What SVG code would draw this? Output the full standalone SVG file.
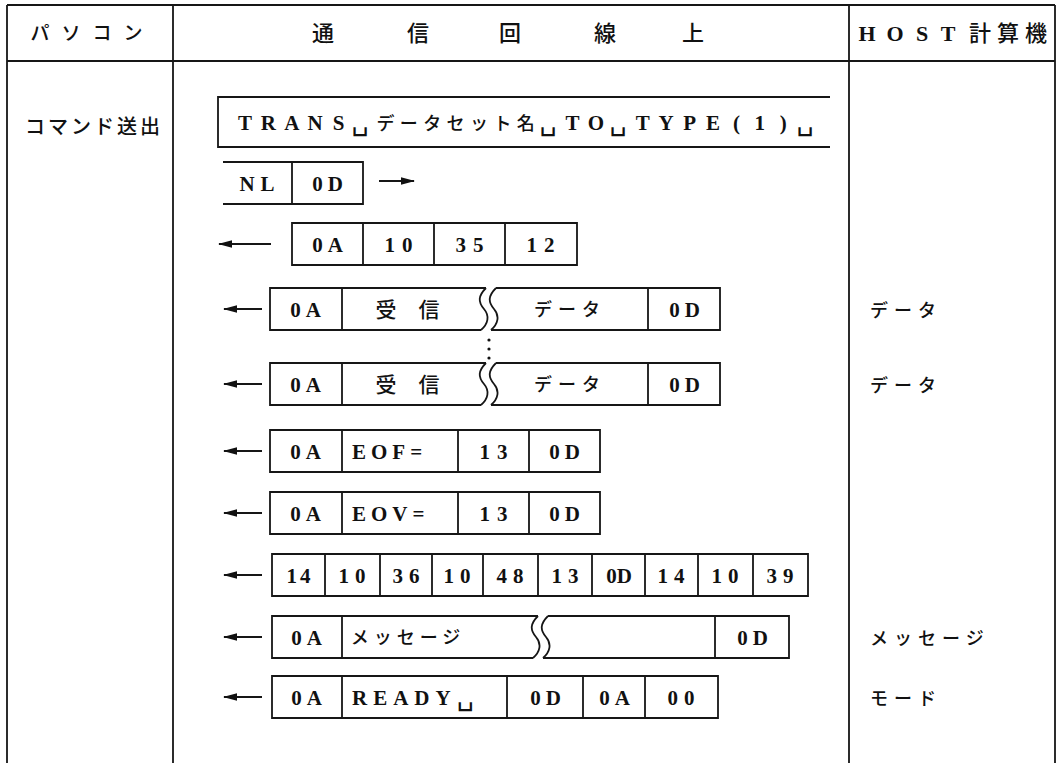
<svg xmlns="http://www.w3.org/2000/svg" width="1057" height="763" viewBox="0 0 1057 763">
<defs>
<marker id="ah" markerUnits="userSpaceOnUse" markerWidth="14" markerHeight="9" refX="13" refY="4.5" orient="auto"><path d="M0,0.8 L14,4.5 L0,8.2 z" fill="#111"/></marker>
</defs>
<style>
.ln{fill:none;stroke:#161616;stroke-width:1.8}
.t{font-family:"Liberation Serif","Noto Sans CJK JP","DejaVu Sans",serif;font-weight:bold;font-size:21px;fill:#111}
.j{font-family:"Noto Sans CJK JP",sans-serif;font-size:18px;font-weight:500;fill:#111}
.m{text-anchor:middle}
.ar{fill:none;stroke:#161616;stroke-width:1.8;marker-end:url(#ah)}
.u{font-family:"DejaVu Sans",sans-serif;font-weight:normal;font-size:27px}
</style>
<rect width="1057" height="763" fill="#fff"/>

<g id="table">
<path class="ln" d="M7,5 H1055 M7,61 H1055 M7,5 V763 M173,5 V763 M849,5 V763 M1055,5 V763"/>
<text class="j m" style="font-size:19px" x="40 71 102 133" y="40">パソコン</text>
<text class="j m" style="font-size:22px" x="323 418 510 605 693" y="41">通信回線上</text>
<text class="t m" style="font-size:22px" x="867 895 922 948" y="41">HOST</text>
<text class="j m" style="font-size:22px" x="980 1008 1036" y="41">計算機</text>
<text class="j" style="font-size:20px;letter-spacing:3px" x="25" y="134">コマンド送出</text>
</g>

<g id="cmd">
<path class="ln" d="M830,97 H218 V147 H830"/>
<text class="t m" y="130"><tspan x="245 268.4 291.8 315.2 338.6">TRANS</tspan><tspan class="u" x="360">␣</tspan><tspan class="j" x="385.4 408.8 432.2 455.6 479 502.4 525.8">データセット名</tspan><tspan class="u" x="548">␣</tspan><tspan x="572.6 596">TO</tspan><tspan class="u" x="618">␣</tspan><tspan x="642.8 666.2 689.6 713 736.4 759.8 783.2">TYPE(1)</tspan><tspan class="u" x="805">␣</tspan></text>
</g>

<g id="nl">
<path class="ln" d="M223,162 H363 V204 H223 M292,162 V204"/>
<text class="t m" style="letter-spacing:6px" x="260" y="191">NL</text>
<text class="t m" style="letter-spacing:5px" x="330" y="191">0D</text>
</g>

<g id="ack">
<path class="ln" d="M292,223 H577 V265 H292 Z M363,223 V265 M434,223 V265 M505,223 V265"/>
<text class="t m" style="letter-spacing:5px" x="330" y="252">0A</text>
<text class="t m" style="letter-spacing:7px" x="402" y="252">10</text>
<text class="t m" style="letter-spacing:7px" x="473" y="252">35</text>
<text class="t m" style="letter-spacing:7px" x="544" y="252">12</text>
</g>

<g id="recv1">
<path class="ln" d="M486,288 H270 V330 H481 M342,288 V330 M486,288 C478,296 478,302 484,309 C490,316 488,324 481,330"/>
<path class="ln" d="M496,288 H720 V330 H491 M648,288 V330 M496,288 C488,296 488,302 494,309 C500,316 498,324 491,330"/>
<text class="t m" style="letter-spacing:5px" x="308" y="317">0A</text>
<text class="j m" style="font-size:21px" x="386 429" y="317">受信</text>
<text class="j m" style="letter-spacing:6px" x="570" y="316">データ</text>
<text class="t m" style="letter-spacing:5px" x="687" y="317">0D</text>
</g>

<g id="dots" fill="#111">
<circle cx="489" cy="340" r="1.6"/><circle cx="489" cy="349" r="1.6"/><circle cx="489" cy="358" r="1.6"/>
</g>

<g id="recv2" transform="translate(0,75)">
<path class="ln" d="M486,288 H270 V330 H481 M342,288 V330 M486,288 C478,296 478,302 484,309 C490,316 488,324 481,330"/>
<path class="ln" d="M496,288 H720 V330 H491 M648,288 V330 M496,288 C488,296 488,302 494,309 C500,316 498,324 491,330"/>
<text class="t m" style="letter-spacing:5px" x="308" y="317">0A</text>
<text class="j m" style="font-size:21px" x="386 429" y="317">受信</text>
<text class="j m" style="letter-spacing:6px" x="570" y="316">データ</text>
<text class="t m" style="letter-spacing:5px" x="687" y="317">0D</text>
</g>

<g id="eof">
<path class="ln" d="M270,430 H600 V472 H270 Z M342,430 V472 M458,430 V472 M529,430 V472"/>
<text class="t m" style="letter-spacing:5px" x="308" y="459">0A</text>
<text class="t" style="letter-spacing:5px" x="352" y="459">EOF=</text>
<text class="t m" style="letter-spacing:7px" x="497" y="459">13</text>
<text class="t m" style="letter-spacing:5px" x="567" y="459">0D</text>
</g>

<g id="eov">
<path class="ln" d="M270,492 H600 V534 H270 Z M342,492 V534 M458,492 V534 M529,492 V534"/>
<text class="t m" style="letter-spacing:5px" x="308" y="521">0A</text>
<text class="t" style="letter-spacing:5px" x="352" y="521">EOV=</text>
<text class="t m" style="letter-spacing:7px" x="497" y="521">13</text>
<text class="t m" style="letter-spacing:5px" x="567" y="521">0D</text>
</g>

<g id="seq">
<path class="ln" d="M272,554 H808 V596 H272 Z M325,554 V596 M380,554 V596 M432,554 V596 M483,554 V596 M538,554 V596 M592,554 V596 M645,554 V596 M698,554 V596 M753,554 V596"/>
<text class="t m" style="letter-spacing:3px" x="300" y="583">14</text>
<text class="t m" style="letter-spacing:6px" x="355" y="583">10</text>
<text class="t m" style="letter-spacing:6px" x="409" y="583">36</text>
<text class="t m" style="letter-spacing:6px" x="460" y="583">10</text>
<text class="t m" style="letter-spacing:6px" x="513" y="583">48</text>
<text class="t m" style="letter-spacing:6px" x="568" y="583">13</text>
<text class="t m" x="619" y="583">0D</text>
<text class="t m" style="letter-spacing:6px" x="674" y="583">14</text>
<text class="t m" style="letter-spacing:6px" x="728" y="583">10</text>
<text class="t m" style="letter-spacing:6px" x="783" y="583">39</text>
</g>

<g id="msg">
<path class="ln" d="M538,616 H272 V658 H533 M342,616 V658 M538,616 C530,624 530,630 536,637 C542,644 540,652 533,658"/>
<path class="ln" d="M548,616 H789 V658 H543 M715,616 V658 M548,616 C540,624 540,630 546,637 C552,644 550,652 543,658"/>
<text class="t m" style="letter-spacing:5px" x="309" y="645">0A</text>
<text class="j m" style="letter-spacing:5px" x="408" y="644">メッセージ</text>
<text class="t m" style="letter-spacing:5px" x="755" y="645">0D</text>
</g>

<g id="ready">
<path class="ln" d="M272,676 H718 V718 H272 Z M342,676 V718 M507,676 V718 M583,676 V718 M645,676 V718"/>
<text class="t m" style="letter-spacing:5px" x="309" y="705">0A</text>
<text class="t" style="letter-spacing:6px" x="352" y="705">READY<tspan class="u">␣</tspan></text>
<text class="t m" style="letter-spacing:5px" x="548" y="705">0D</text>
<text class="t m" style="letter-spacing:5px" x="617" y="705">0A</text>
<text class="t m" style="letter-spacing:6px" x="684" y="705">00</text>
</g>

<g id="host">
<text class="j" style="letter-spacing:6px" x="870" y="317">データ</text>
<text class="j" style="letter-spacing:6px" x="870" y="392">データ</text>
<text class="j" style="letter-spacing:6px" x="870" y="645">メッセージ</text>
<text class="j" style="letter-spacing:6px" x="870" y="705">モード</text>
</g>

<g id="connectors">
<path class="ar" d="M379,181 H414"/>
<path class="ar" d="M271,244 H219"/>
<path class="ar" d="M262,309 H224"/>
<path class="ar" d="M262,384 H224"/>
<path class="ar" d="M262,451 H224"/>
<path class="ar" d="M262,513 H224"/>
<path class="ar" d="M262,575 H224"/>
<path class="ar" d="M262,637 H224"/>
<path class="ar" d="M262,697 H224"/>
</g>
</svg>
